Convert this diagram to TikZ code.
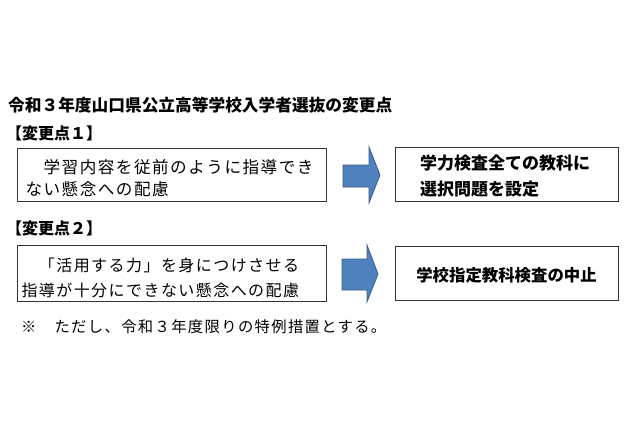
\documentclass[tikz,border=0pt]{standalone}
\usepackage{fontspec}
\usepackage{xcolor}
\setmainfont{Noto Sans CJK JP}
\newfontfamily\jpspaced[LetterSpace=9]{Noto Sans CJK JP}
\definecolor{arrowblue}{HTML}{4F81BD}
\definecolor{arrowedge}{HTML}{385D8A}
% strut to push box text a little down
\newcommand{\lowstrut}[1]{\rule{0pt}{#1pt}}

\begin{document}
\begin{tikzpicture}[x=1pt,y=-1pt,
    chgbox/.style={draw=black!80, line width=1pt, minimum height=53pt, align=left, anchor=west},
    resbox/.style={draw=black!80, line width=1pt, minimum width=223pt, minimum height=54pt, align=left, font=\bfseries\fontsize{17}{26}\selectfont},
    blockarrow/.style={fill=arrowblue, draw=arrowedge, line width=0.8pt},
    heading/.style={anchor=west, inner sep=0pt, font=\bfseries\fontsize{16.7}{20}\selectfont}]
\useasboundingbox (0,0) rectangle (640,426);
% === headings ===
\node[heading] (title) at (8,105) {令和３年度山口県公立高等学校入学者選抜の変更点};
\node[heading, font=\bfseries\fontsize{16}{20}\selectfont] (pt1) at (6,133) {【変更点１】};
\node[heading, font=\bfseries\fontsize{16}{20}\selectfont] (pt2) at (6,228) {【変更点２】};
% === change 1 ===
\node[chgbox, inner xsep=8pt, text width=293pt, font=\jpspaced\fontsize{16.6}{22}\selectfont]
    (why1) at (17,174.5) {\lowstrut{21.6}　学習内容を従前のように指導でき\\ない懸念への配慮};
\node[resbox, text width=173pt] (res1) at (506.5,174) {\lowstrut{19}学力検査全ての教科に\\選択問題を設定};
\fill[blockarrow] (343,165) -- (369,165) -- (369,147) -- (380,175)
    -- (369,203) -- (369,187) -- (343,187) -- cycle;
% === change 2 ===
\node[chgbox, inner xsep=4pt, text width=301pt, font=\jpspaced\fontsize{16}{25}\selectfont]
    (why2) at (17,273.5) {\lowstrut{22}　「活用する力」を身につけさせる\\指導が十分にできない懸念への配慮};
\node[resbox, align=center, font=\bfseries\fontsize{16.4}{20}\selectfont] (res2) at (506.5,273.5) {\lowstrut{17.4}学校指定教科検査の中止};
\fill[blockarrow] (342,259) -- (367,259) -- (367,245) -- (378,274)
    -- (367,302) -- (367,290) -- (342,290) -- cycle;
% === note ===
\node[anchor=west, inner sep=0pt, font=\jpspaced\fontsize{15.3}{18}\selectfont] (note) at (21,327)
    {※　ただし、令和３年度限りの特例措置とする。};
\end{tikzpicture}
\end{document}
